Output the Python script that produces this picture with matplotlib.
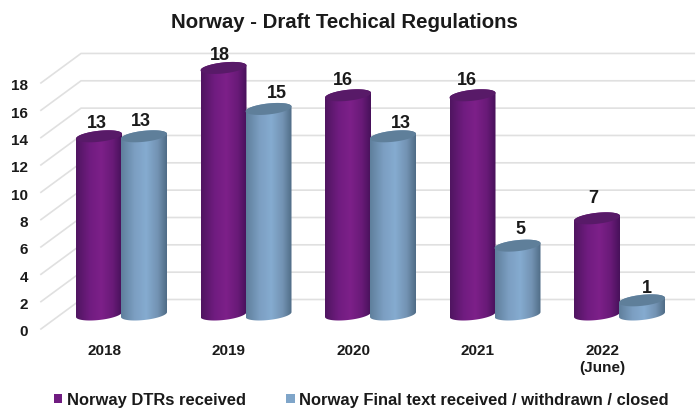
import numpy as np
import matplotlib
matplotlib.use('Agg')
import matplotlib.pyplot as plt
from matplotlib.colors import LinearSegmentedColormap
from matplotlib.patches import Patch, PathPatch, Polygon
from matplotlib.path import Path

plt.rcParams['font.family'] = ['Liberation Sans', 'DejaVu Sans']

categories = ['2018', '2019', '2020', '2021', '2022\n(June)']
received = [13, 18, 16, 16, 7]
closed = [13, 15, 13, 5, 1]
yticks = [0, 2, 4, 6, 8, 10, 12, 14, 16, 18]

title = 'Norway - Draft Techical Regulations'
name_received = 'Norway DTRs received'
name_closed = 'Norway Final text received / withdrawn / closed'

# label nudges in pixels, (dx, dy) from the top of each cylinder
offs_received = [(-2, 14), (-4, 13), (-5, 16), (-6, 16), (-4, 21)]
offs_closed = [(-3, 16), (8, 16), (8, 14), (3, 17), (5, 13)]

PX_X = 124.5   # pixels per category
PX_Y = 13.67   # pixels per unit
BAR_W = 46 / PX_X
OFFSET = 22.5 / PX_X
ELL_H = 5.5 / PX_Y
TILT = 2.4 / PX_Y
BASE = -0.5 / PX_Y

fig = plt.figure(figsize=(7, 4.14), dpi=100)
ax = fig.add_axes([0, 0, 1, 1])
ax.set_xlim(-121.5 / PX_X, (700 - 121.5) / PX_X)
ax.set_ylim((315 - 414) / PX_Y, 315 / PX_Y)
ax.axis('off')

purple_cmap = LinearSegmentedColormap.from_list(
    'p', [(0, '#4f1560'), (0.3, '#701c80'), (0.55, '#7d2089'), (0.8, '#691a78'), (1, '#47115a')])
blue_cmap = LinearSegmentedColormap.from_list(
    'b', [(0, '#5f7f9c'), (0.3, '#7c9fc2'), (0.55, '#85abd0'), (0.8, '#7393b3'), (1, '#4f6c86')])
gradient = np.linspace(0, 1, 256).reshape(1, -1)


def cylinder(xc, v, cmap, top_color):
    w = BAR_W / 2
    t = np.linspace(0, np.pi, 60)
    # top half of the top ellipse, right to left, then bottom half of the base
    top_x = xc + w * np.cos(t)
    top_y = v + ELL_H * np.sin(t) + TILT * np.cos(t)
    bot_x = xc - w * np.cos(t)
    bot_y = BASE - ELL_H * np.sin(t) - TILT * np.cos(t)
    verts = np.r_[np.c_[top_x, top_y], np.c_[bot_x, bot_y], [[top_x[0], top_y[0]]]]
    patch = PathPatch(Path(verts), fc='none', ec='none', transform=ax.transData)
    ax.add_patch(patch)
    im = ax.imshow(gradient, cmap=cmap, aspect='auto', interpolation='bilinear',
                   extent=[xc - w, xc + w, -2, v + 2 * ELL_H], zorder=3)
    im.set_clip_path(patch)
    t = np.linspace(0, 2 * np.pi, 90)
    ell = np.c_[xc + w * np.cos(t), v + ELL_H * np.sin(t) + TILT * np.cos(t)]
    ax.add_patch(Polygon(ell, closed=True, fc=top_color, ec='none', zorder=3))


# walls: gridlines run from the front left corner to the back wall
for v in yticks:
    ax.plot([-0.647, -0.325, 4.6], [v - 1.097, v + 1.06, v + 1.06],
            color='#e0e0e0', lw=1.2, zorder=1)
    ax.text(-0.75, v - 1.17, str(v), ha='right', va='center_baseline',
            fontsize=11, fontweight='bold', color='#1a1a1a')

xpos = np.arange(len(categories))
for i in xpos:
    cylinder(i - OFFSET, received[i], purple_cmap, '#581a68')
    cylinder(i + OFFSET, closed[i], blue_cmap, '#5f7f9a')
    for x, val, off in [(i - OFFSET, received[i], offs_received[i]),
                        (i + OFFSET, closed[i], offs_closed[i])]:
        ax.annotate(str(val), (x, val), xytext=off, textcoords='offset pixels',
                    ha='center', va='center', fontsize=13, fontweight='bold',
                    color='#1a1a1a', zorder=5)
    ax.text(i - 0.14, -2.12, categories[i], ha='center', va='top', fontsize=11,
            fontweight='bold', color='#1a1a1a', linespacing=1.25)

ax.set_xlim(-121.5 / PX_X, (700 - 121.5) / PX_X)
ax.set_ylim((315 - 414) / PX_Y, 315 / PX_Y)

ax.text(0.4925, 0.946, title, transform=ax.transAxes, ha='center', va='center',
        fontsize=14.7, fontweight='bold', color='#1a1a1a')

handles = [Patch(fc='#701c80', label=name_received), Patch(fc='#7fa5c9', label=name_closed)]
leg = ax.legend(handles=handles, ncol=2, frameon=False, loc='center',
                bbox_to_anchor=(0.5164, 0.032), handlelength=0.5, handleheight=0.5,
                handletextpad=0.3, columnspacing=2.45,
                prop={'size': 11.85, 'weight': 'bold'})
for t in leg.get_texts():
    t.set_color('#1a1a1a')

fig.savefig('out.png', dpi=100)
